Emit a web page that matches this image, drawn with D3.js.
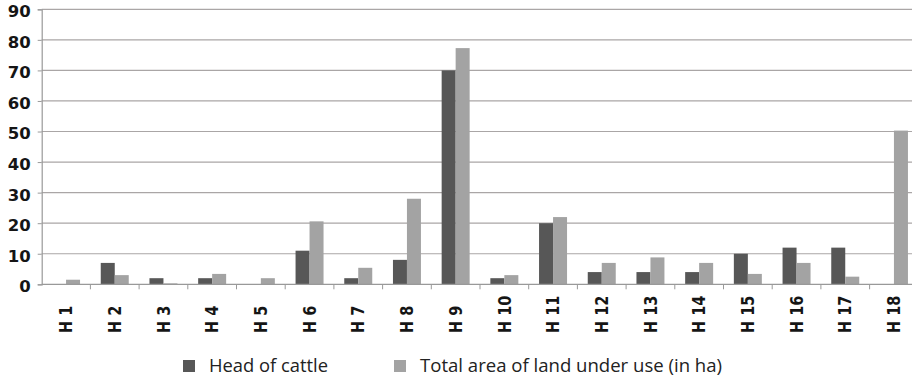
<!DOCTYPE html>
<html><head><meta charset="utf-8">
<script src="https://cdn.jsdelivr.net/npm/d3@7"></script>
<style>html,body{margin:0;padding:0;background:#fff;overflow:hidden}</style>
</head><body>
<svg id="c" width="912" height="379"></svg>
<script>
const categories = ["H 1","H 2","H 3","H 4","H 5","H 6","H 7","H 8","H 9","H 10","H 11","H 12","H 13","H 14","H 15","H 16","H 17","H 18"];
const cattle = [0,7,2,2,0,11,2,8,70,2,20,4,4,4,10,12,12,0];
const land = [1.5,3,0.3,3.4,2,20.6,5.4,28,77.3,3,22,7,8.8,7,3.4,7,2.5,50.3];
const seriesNames = ["Head of cattle","Total area of land under use (in ha)"];
const yTicks = [0,10,20,30,40,50,60,70,80,90];
const colors = ["#575757","#a3a3a3"];

const svg = d3.select("#c");
const pLeft = 41.7, pRight = 918.3, pTop = 9.3, pBottom = 284.3;
const x = d3.scaleBand().domain(categories).range([pLeft, pRight]).padding(0);
const x1 = d3.scaleBand().domain([0,1]).range([0, x.bandwidth()]).paddingInner(0).paddingOuter(0.74);
const y = d3.scaleLinear().domain([0,90]).range([pBottom, pTop]);

// gridlines
svg.append("g").selectAll("line").data(yTicks.filter(d=>d>0)).join("line")
  .attr("x1", pLeft).attr("x2", pRight).attr("y1", d=>y(d)).attr("y2", d=>y(d))
  .attr("stroke", "#aaa6a6").attr("stroke-width", 1.2);

// bars
const rows = categories.map((c,i)=>({c, v:[cattle[i], land[i]]}));
const g = svg.append("g");
rows.forEach(r=>{
  r.v.forEach((v,j)=>{
    g.append("rect")
      .attr("x", x(r.c) + x1(j)).attr("width", x1.bandwidth())
      .attr("y", y(v)).attr("height", pBottom - y(v))
      .attr("fill", colors[j]);
  });
});

// y axis
const ya = svg.append("g").attr("transform", `translate(${pLeft},0)`)
  .call(d3.axisLeft(y).tickValues(yTicks).tickSize(4).tickPadding(7));
ya.select(".domain").attr("stroke", "#999").attr("stroke-width", 1.2);
ya.selectAll(".tick line").attr("stroke", "#999");
ya.selectAll("text").attr("font-family", "DejaVu Sans").attr("font-weight", "bold")
  .attr("font-size", 16.5).attr("fill", "#151515").attr("dy", "0.45em");

// x axis line
svg.append("line").attr("x1", pLeft).attr("x2", pRight).attr("y1", pBottom).attr("y2", pBottom)
  .attr("stroke", "#999").attr("stroke-width", 1.2);
// boundary ticks
svg.append("g").selectAll("line").data(categories.slice(1)).join("line")
  .attr("x1", d=>x(d)).attr("x2", d=>x(d)).attr("y1", pBottom).attr("y2", pBottom+5)
  .attr("stroke", "#999");
// x labels
svg.append("g").selectAll("text").data(categories).join("text")
  .attr("transform", d=>`translate(${x(d)+x.bandwidth()/2},333) rotate(-90) scale(1,1.18)`)
  .attr("dy", "0.36em").attr("text-anchor", "start")
  .attr("font-family", "DejaVu Sans").attr("font-weight", "bold").attr("font-size", 14.5)
  .attr("fill", "#151515").text(d=>d);

// legend
const leg = [{x:183, tx:209, len:119},{x:394, tx:420, len:302}];
leg.forEach((l,i)=>{
  svg.append("rect").attr("x", l.x).attr("y", 360).attr("width", 12).attr("height", 12).attr("fill", colors[i]);
  svg.append("text").attr("x", l.tx).attr("y", 372).attr("font-family", "Open Sans").attr("font-size", 18)
    .attr("fill", "#222").attr("textLength", l.len).attr("lengthAdjust", "spacingAndGlyphs").text(seriesNames[i]);
});
</script>
</body></html>
